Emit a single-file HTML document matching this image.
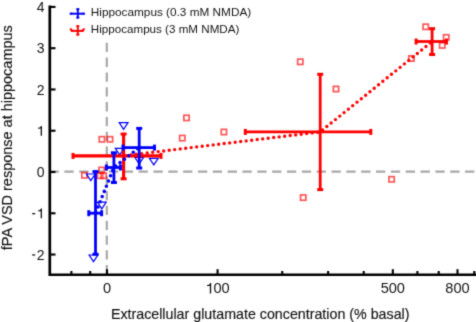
<!DOCTYPE html>
<html><head><meta charset="utf-8"><style>
html,body{margin:0;padding:0;background:#fff;width:476px;height:322px;overflow:hidden}
svg{display:block}
</style></head><body>
<div class="wrap"><svg width="476" height="322" viewBox="0 0 476 322">
<defs><filter id="bl" x="0" y="0" width="1" height="1" color-interpolation-filters="sRGB"><feConvolveMatrix order="3" kernelMatrix="1 5 1 5 25 5 1 5 1" divisor="49" edgeMode="duplicate" preserveAlpha="false"/></filter></defs>
<g filter="url(#bl)">
<rect width="476" height="322" fill="#fff"/>
<line x1="106.8" y1="42.8" x2="106.8" y2="274" stroke="#a8a8a8" stroke-width="2.2" stroke-dasharray="9.3 5.52"/>
<line x1="49.54" y1="171.65" x2="476" y2="171.65" stroke="#a8a8a8" stroke-width="2.2" stroke-dasharray="9.3 5.54"/>
<rect x="99.25" y="136.65" width="5.3" height="5.3" fill="none" stroke="#ff0000" stroke-width="1.7" stroke-opacity="0.66"/>
<rect x="107.35" y="136.65" width="5.3" height="5.3" fill="none" stroke="#ff0000" stroke-width="1.7" stroke-opacity="0.66"/>
<rect x="81.85" y="172.65" width="5.3" height="5.3" fill="none" stroke="#ff0000" stroke-width="1.7" stroke-opacity="0.66"/>
<rect x="98.95" y="167.35" width="5.3" height="5.3" fill="none" stroke="#ff0000" stroke-width="1.7" stroke-opacity="0.66"/>
<rect x="97.45" y="173.05" width="5.3" height="5.3" fill="none" stroke="#ff0000" stroke-width="1.7" stroke-opacity="0.66"/>
<rect x="100.95" y="173.05" width="5.3" height="5.3" fill="none" stroke="#ff0000" stroke-width="1.7" stroke-opacity="0.66"/>
<rect x="183.85" y="115.25" width="5.3" height="5.3" fill="none" stroke="#ff0000" stroke-width="1.7" stroke-opacity="0.66"/>
<rect x="179.65" y="135.45" width="5.3" height="5.3" fill="none" stroke="#ff0000" stroke-width="1.7" stroke-opacity="0.66"/>
<rect x="221.25" y="129.35" width="5.3" height="5.3" fill="none" stroke="#ff0000" stroke-width="1.7" stroke-opacity="0.66"/>
<rect x="297.65" y="59.15" width="5.3" height="5.3" fill="none" stroke="#ff0000" stroke-width="1.7" stroke-opacity="0.66"/>
<rect x="333.35" y="86.35" width="5.3" height="5.3" fill="none" stroke="#ff0000" stroke-width="1.7" stroke-opacity="0.66"/>
<rect x="300.55" y="194.95" width="5.3" height="5.3" fill="none" stroke="#ff0000" stroke-width="1.7" stroke-opacity="0.66"/>
<rect x="388.95" y="176.65" width="5.3" height="5.3" fill="none" stroke="#ff0000" stroke-width="1.7" stroke-opacity="0.66"/>
<rect x="423.05" y="24.15" width="5.3" height="5.3" fill="none" stroke="#ff0000" stroke-width="1.7" stroke-opacity="0.66"/>
<rect x="443.55" y="34.75" width="5.3" height="5.3" fill="none" stroke="#ff0000" stroke-width="1.7" stroke-opacity="0.66"/>
<rect x="439.55" y="42.75" width="5.3" height="5.3" fill="none" stroke="#ff0000" stroke-width="1.7" stroke-opacity="0.66"/>
<rect x="408.75" y="55.85" width="5.3" height="5.3" fill="none" stroke="#ff0000" stroke-width="1.7" stroke-opacity="0.66"/>
<polygon points="89.10,255.00 97.90,255.00 93.50,261.60" fill="none" stroke="#0000ff" stroke-width="1.2" stroke-linejoin="miter"/>
<polygon points="97.40,202.20 106.20,202.20 101.80,208.80" fill="none" stroke="#0000ff" stroke-width="1.2" stroke-linejoin="miter"/>
<polygon points="86.40,174.00 95.20,174.00 90.80,180.60" fill="none" stroke="#0000ff" stroke-width="1.2" stroke-linejoin="miter"/>
<polygon points="119.20,122.70 128.00,122.70 123.60,129.30" fill="none" stroke="#0000ff" stroke-width="1.2" stroke-linejoin="miter"/>
<polygon points="115.30,148.30 124.10,148.30 119.70,154.90" fill="none" stroke="#0000ff" stroke-width="1.2" stroke-linejoin="miter"/>
<polygon points="149.40,158.30 158.20,158.30 153.80,164.90" fill="none" stroke="#0000ff" stroke-width="1.2" stroke-linejoin="miter"/>
<polygon points="134.80,157.30 143.60,157.30 139.20,163.90" fill="none" stroke="#0000ff" stroke-width="1.2" stroke-linejoin="miter"/>
<path d="M123.60,155.80 L320.20,131.90 L432.10,41.50" fill="none" stroke="#ff0000" stroke-width="3.4" stroke-linecap="round" stroke-dasharray="0 5.54" stroke-dashoffset="-1.60"/>
<g stroke="#ff0000" fill="none" stroke-width="3.1">
<line x1="73.0" y1="155.9" x2="161.0" y2="155.9"/>
<line x1="123.6" y1="134.0" x2="123.6" y2="178.8"/>
</g>
<g stroke="#ff0000" stroke-width="3.0">
<line x1="73.0" y1="152.9" x2="73.0" y2="158.9"/>
<line x1="161.0" y1="152.9" x2="161.0" y2="158.9"/>
<line x1="120.6" y1="134.0" x2="126.6" y2="134.0"/>
<line x1="120.6" y1="178.8" x2="126.6" y2="178.8"/>
</g>
<g stroke="#ff0000" fill="none" stroke-width="2.8">
<line x1="245.3" y1="131.9" x2="370.8" y2="131.9"/>
<line x1="320.2" y1="74.3" x2="320.2" y2="189.6"/>
</g>
<g stroke="#ff0000" stroke-width="3.0">
<line x1="245.3" y1="128.9" x2="245.3" y2="134.9"/>
<line x1="370.8" y1="128.9" x2="370.8" y2="134.9"/>
<line x1="317.2" y1="74.3" x2="323.2" y2="74.3"/>
<line x1="317.2" y1="189.6" x2="323.2" y2="189.6"/>
</g>
<g stroke="#ff0000" fill="none" stroke-width="2.8">
<line x1="416.1" y1="41.5" x2="446.5" y2="41.5"/>
<line x1="432.1" y1="28.7" x2="432.1" y2="54.5"/>
</g>
<g stroke="#ff0000" stroke-width="3.0">
<line x1="416.1" y1="38.5" x2="416.1" y2="44.5"/>
<line x1="446.5" y1="38.5" x2="446.5" y2="44.5"/>
<line x1="429.1" y1="28.7" x2="435.1" y2="28.7"/>
<line x1="429.1" y1="54.5" x2="435.1" y2="54.5"/>
</g>
<path d="M95.50,213.20 L113.90,167.50 L139.20,147.60" fill="none" stroke="#0000ff" stroke-width="3.6" stroke-linecap="round" stroke-dasharray="0 5.6" stroke-dashoffset="-1.10"/>
<g stroke="#0000ff" fill="none" stroke-width="2.8">
<line x1="88.8" y1="213.2" x2="101.6" y2="213.2"/>
<line x1="95.5" y1="171.6" x2="95.5" y2="254.2"/>
</g>
<g stroke="#0000ff" stroke-width="3.0">
<line x1="88.8" y1="210.2" x2="88.8" y2="216.2"/>
<line x1="101.6" y1="210.2" x2="101.6" y2="216.2"/>
<line x1="92.5" y1="171.6" x2="98.5" y2="171.6"/>
<line x1="92.5" y1="254.2" x2="98.5" y2="254.2"/>
</g>
<g stroke="#0000ff" fill="none" stroke-width="2.8">
<line x1="106.4" y1="167.5" x2="120.4" y2="167.5"/>
<line x1="113.9" y1="152.8" x2="113.9" y2="182.5"/>
</g>
<g stroke="#0000ff" stroke-width="3.0">
<line x1="106.4" y1="164.5" x2="106.4" y2="170.5"/>
<line x1="120.4" y1="164.5" x2="120.4" y2="170.5"/>
<line x1="110.9" y1="152.8" x2="116.9" y2="152.8"/>
<line x1="110.9" y1="182.5" x2="116.9" y2="182.5"/>
</g>
<g stroke="#0000ff" fill="none" stroke-width="2.8">
<line x1="123.0" y1="147.6" x2="154.5" y2="147.6"/>
<line x1="139.2" y1="128.4" x2="139.2" y2="168.0"/>
</g>
<g stroke="#0000ff" stroke-width="3.0">
<line x1="123.0" y1="144.6" x2="123.0" y2="150.6"/>
<line x1="154.5" y1="144.6" x2="154.5" y2="150.6"/>
<line x1="136.2" y1="128.4" x2="142.2" y2="128.4"/>
<line x1="136.2" y1="168.0" x2="142.2" y2="168.0"/>
</g>
<g stroke="#000" stroke-width="2.7" fill="none">
<path d="M49.8,5.6 V274.75 H476"/>
</g>
<g stroke="#000" stroke-width="2.1">
<line x1="49.8" y1="254.54" x2="55.5" y2="254.54"/>
<line x1="49.8" y1="213.27" x2="55.5" y2="213.27"/>
<line x1="49.8" y1="172.00" x2="55.5" y2="172.00"/>
<line x1="49.8" y1="130.73" x2="55.5" y2="130.73"/>
<line x1="49.8" y1="89.46" x2="55.5" y2="89.46"/>
<line x1="49.8" y1="48.19" x2="55.5" y2="48.19"/>
<line x1="49.8" y1="6.92" x2="55.5" y2="6.92"/>
</g>
<g stroke="#000" stroke-width="2.1">
<line x1="71.40" y1="274.75" x2="71.40" y2="271.0"/>
<line x1="90.19" y1="274.75" x2="90.19" y2="271.0"/>
<line x1="107.00" y1="274.75" x2="107.00" y2="269.2"/>
<line x1="217.57" y1="274.75" x2="217.57" y2="269.2"/>
<line x1="282.25" y1="274.75" x2="282.25" y2="271.0"/>
<line x1="328.14" y1="274.75" x2="328.14" y2="271.0"/>
<line x1="363.73" y1="274.75" x2="363.73" y2="271.0"/>
<line x1="392.81" y1="274.75" x2="392.81" y2="269.2"/>
<line x1="417.40" y1="274.75" x2="417.40" y2="271.0"/>
<line x1="438.70" y1="274.75" x2="438.70" y2="271.0"/>
<line x1="457.49" y1="274.75" x2="457.49" y2="269.2"/>
<line x1="474.30" y1="274.75" x2="474.30" y2="271.0"/>
</g>
<g font-family='"Liberation Sans", sans-serif' font-size="14" fill="#141414">
<text x="44.6" y="259.64" text-anchor="end">2</text>
<line x1="32.2" y1="254.94" x2="35.2" y2="254.94" stroke="#141414" stroke-width="1.3"/>
<polygon points="40.67,218.37 41.97,218.37 41.97,208.44 40.92,208.44 40.55,209.27 39.78,209.97 37.96,210.39 37.96,211.37 40.67,211.16" fill="#141414"/>
<line x1="32.2" y1="213.67" x2="35.2" y2="213.67" stroke="#141414" stroke-width="1.3"/>
<text x="44.6" y="177.10" text-anchor="end">0</text>
<polygon points="40.67,135.83 41.97,135.83 41.97,125.90 40.92,125.90 40.55,126.73 39.78,127.43 37.96,127.85 37.96,128.83 40.67,128.62" fill="#141414"/>
<text x="44.6" y="94.56" text-anchor="end">2</text>
<text x="44.6" y="53.29" text-anchor="end">3</text>
<text x="44.6" y="12.02" text-anchor="end">4</text>
<text x="107.00" y="293.4" font-size="14.6" text-anchor="middle">0</text>
<polygon points="209.83,293.40 211.19,293.40 211.19,283.05 210.09,283.05 209.70,283.91 208.90,284.64 207.00,285.08 207.00,286.10 209.83,285.88" fill="#141414"/>
<text x="213.51" y="293.4" font-size="14.6">00</text>
<text x="392.81" y="293.4" font-size="14.6" text-anchor="middle">500</text>
<text x="457.49" y="293.4" font-size="14.6" text-anchor="middle">800</text>
</g>
<text x="110.9" y="318.6" font-family='"Liberation Sans", sans-serif' font-size="14.4" fill="#141414" stroke="#141414" stroke-width="0.15" textLength="298.6" lengthAdjust="spacingAndGlyphs">Extracellular glutamate concentration (% basal)</text>
<text transform="translate(11.9,250.2) rotate(-90)" x="0" y="0" font-family='"Liberation Sans", sans-serif' font-size="14" fill="#141414" stroke="#141414" stroke-width="0.15" textLength="225" lengthAdjust="spacingAndGlyphs">fPA VSD response at hippocampus</text>
<g font-family='"Liberation Sans", sans-serif' font-size="11.6" fill="#141414" stroke="#141414" stroke-width="0.0">
<text x="90.8" y="16.1" textLength="160.4" lengthAdjust="spacingAndGlyphs">Hippocampus (0.3 mM NMDA)</text>
<text x="90.8" y="33.1" textLength="148.6" lengthAdjust="spacingAndGlyphs">Hippocampus (3 mM NMDA)</text>
</g>
<g stroke="#0000ff" stroke-width="2" fill="none">
<line x1="71.0" y1="13.7" x2="83.6" y2="13.7"/>
<line x1="77.8" y1="9.2" x2="77.8" y2="17.6" stroke-width="1.8"/>
</g>
<g stroke="#0000ff" stroke-width="2.2">
<line x1="70.9" y1="12.6" x2="70.9" y2="14.799999999999999" stroke-width="2.4"/>
<line x1="83.7" y1="12.6" x2="83.7" y2="14.799999999999999" stroke-width="2.4"/>
<line x1="76.3" y1="9.2" x2="79.3" y2="9.2"/>
<line x1="76.3" y1="17.6" x2="79.3" y2="17.6"/>
</g>
<g stroke="#ff0000" stroke-width="2" fill="none">
<line x1="71.0" y1="30.9" x2="83.6" y2="30.9"/>
<line x1="77.8" y1="26.2" x2="77.8" y2="34.6" stroke-width="1.8"/>
</g>
<g stroke="#ff0000" stroke-width="2.2">
<path d="M70.6,28.299999999999997 Q71.0,30.9 73.0,30.9 M84.0,28.299999999999997 Q83.6,30.9 81.6,30.9" fill="none" stroke-width="2.1"/>
<line x1="76.3" y1="26.2" x2="79.3" y2="26.2"/>
<line x1="76.3" y1="34.6" x2="79.3" y2="34.6"/>
</g>
</g>
</svg></div>
</body></html>
